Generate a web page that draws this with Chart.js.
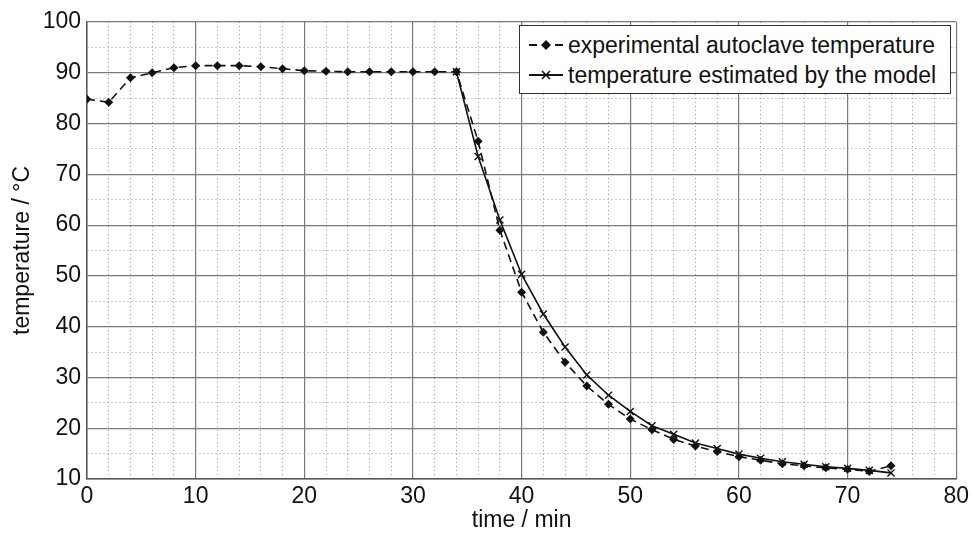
<!DOCTYPE html>
<html>
<head>
<meta charset="utf-8">
<script src="https://cdn.jsdelivr.net/npm/chart.js@4/dist/chart.umd.min.js"></script>
<style>
  html, body { margin: 0; padding: 0; background: #fff; }
  #wrap { position: relative; width: 973px; height: 535px; }
  #legend {
    position: absolute; left: 519px; top: 25px; width: 432px; height: 69px;
    background: #fff; border: 1.5px solid #333; box-sizing: border-box;
    font-family: "Liberation Sans", Arial, sans-serif; font-size: 23px; color: #111;
  }
  .row { position: absolute; left: 8px; height: 30px; display: flex; align-items: center; white-space: nowrap; }
  .row svg { margin-right: 4px; }
</style>
</head>
<body>
<div id="wrap">
  <canvas id="c" width="973" height="535"></canvas>
  <div id="legend">
    <div class="row" style="top:4px">
      <svg width="36" height="20"><line x1="1" y1="10" x2="35" y2="10" stroke="#111" stroke-width="1.8" stroke-dasharray="8,5"/><polygon points="18,5 23,10 18,15 13,10" fill="#111"/></svg>
      <span>experimental autoclave temperature</span>
    </div>
    <div class="row" style="top:34px">
      <svg width="36" height="20"><line x1="1" y1="10" x2="35" y2="10" stroke="#111" stroke-width="1.8"/><path d="M14,6 L22,14 M22,6 L14,14" stroke="#111" stroke-width="1.6"/></svg>
      <span>temperature estimated by the model</span>
    </div>
  </div>
</div>
<script>
// ---- data ----
const expTime = [0,2,4,6,8,10,12,14,16,18,20,22,24,26,28,30,32,34,36,38,40,42,44,46,48,50,52,54,56,58,60,62,64,66,68,70,72,74];
const expTemp = [84.8,84.2,89.0,90.0,91.0,91.4,91.4,91.4,91.2,90.8,90.4,90.3,90.2,90.2,90.2,90.2,90.2,90.2,76.5,59.0,46.8,38.9,33.0,28.3,24.7,21.8,19.7,17.8,16.5,15.4,14.4,13.7,13.0,12.6,12.2,11.9,11.5,12.6];
const modelTime = [34,36,38,40,42,44,46,48,50,52,54,56,58,60,62,64,66,68,70,72,74];
const modelTemp = [90.2,73.5,61.0,50.3,42.5,36.0,30.5,26.5,23.3,20.5,18.8,17.1,16.0,14.9,14.1,13.4,12.9,12.4,12.1,11.7,11.2];
const xTickLabels = [0,10,20,30,40,50,60,70,80];
const yTickLabels = [10,20,30,40,50,60,70,80,90,100];

const FONT = "'Liberation Sans', Arial, sans-serif";
const majorColor = '#7a7a7a';
const minorColor = '#9a9a9a';

function gridOpts(isMajor) {
  return {
    color: (ctx) => ctx.tick && isMajor(ctx.tick.value) ? majorColor : minorColor,
    lineWidth: (ctx) => ctx.tick && isMajor(ctx.tick.value) ? 1.2 : 1,
    drawTicks: false
  };
}

new Chart(document.getElementById('c'), {
  type: 'line',
  data: {
    datasets: [
      {
        label: 'experimental autoclave temperature',
        data: expTime.map((t, i) => ({x: t, y: expTemp[i]})),
        borderColor: '#111', backgroundColor: '#111',
        borderWidth: 1.6, borderDash: [8, 5],
        pointStyle: 'rectRot', pointRadius: 4.5, pointBorderWidth: 0,
        tension: 0, order: 1
      },
      {
        label: 'temperature estimated by the model',
        data: modelTime.map((t, i) => ({x: t, y: modelTemp[i]})),
        borderColor: '#111', backgroundColor: '#111',
        borderWidth: 1.6,
        pointStyle: 'crossRot', pointRadius: 5, pointBorderWidth: 1.4,
        tension: 0, order: 0
      }
    ]
  },
  options: {
    responsive: false,
    animation: false,
    layout: { padding: { left: 0, right: 16, top: 22, bottom: 0 } },
    plugins: { legend: { display: false }, tooltip: { enabled: false } },
    scales: {
      x: {
        type: 'linear', min: 0, max: 80,
        afterFit: (s) => { s.height = 56; },
        ticks: {
          stepSize: 2, autoSkip: false, maxRotation: 0, padding: 4,
          color: '#111', font: { family: FONT, size: 23 },
          callback: (v) => xTickLabels.includes(v) ? String(v) : ''
        },
        grid: gridOpts(v => v % 10 === 0),
        border: { display: true, color: '#555', width: 1.5,
          dash: (ctx) => ctx.tick ? (ctx.tick.value % 10 === 0 ? [] : [1, 3]) : [] },
        title: { display: true, text: 'time / min', color: '#111',
          font: { family: FONT, size: 23, lineHeight: 1.2 }, padding: { top: 0, bottom: 1 } }
      },
      y: {
        type: 'linear', min: 10, max: 100,
        afterFit: (s) => { s.width = 87; },
        ticks: {
          stepSize: 5, autoSkip: false, padding: 6,
          color: '#111', font: { family: FONT, size: 23 },
          callback: (v) => yTickLabels.includes(v) ? String(v) : ''
        },
        grid: gridOpts(v => v % 10 === 0),
        border: { display: true, color: '#555', width: 1.5,
          dash: (ctx) => ctx.tick ? (ctx.tick.value % 10 === 0 ? [] : [1, 3]) : [] },
        title: { display: true, text: 'temperature / °C', color: '#111',
          font: { family: FONT, size: 23, lineHeight: 1.2 }, padding: { top: 9, bottom: 0 } }
      }
    }
  }
});
</script>
</body>
</html>
